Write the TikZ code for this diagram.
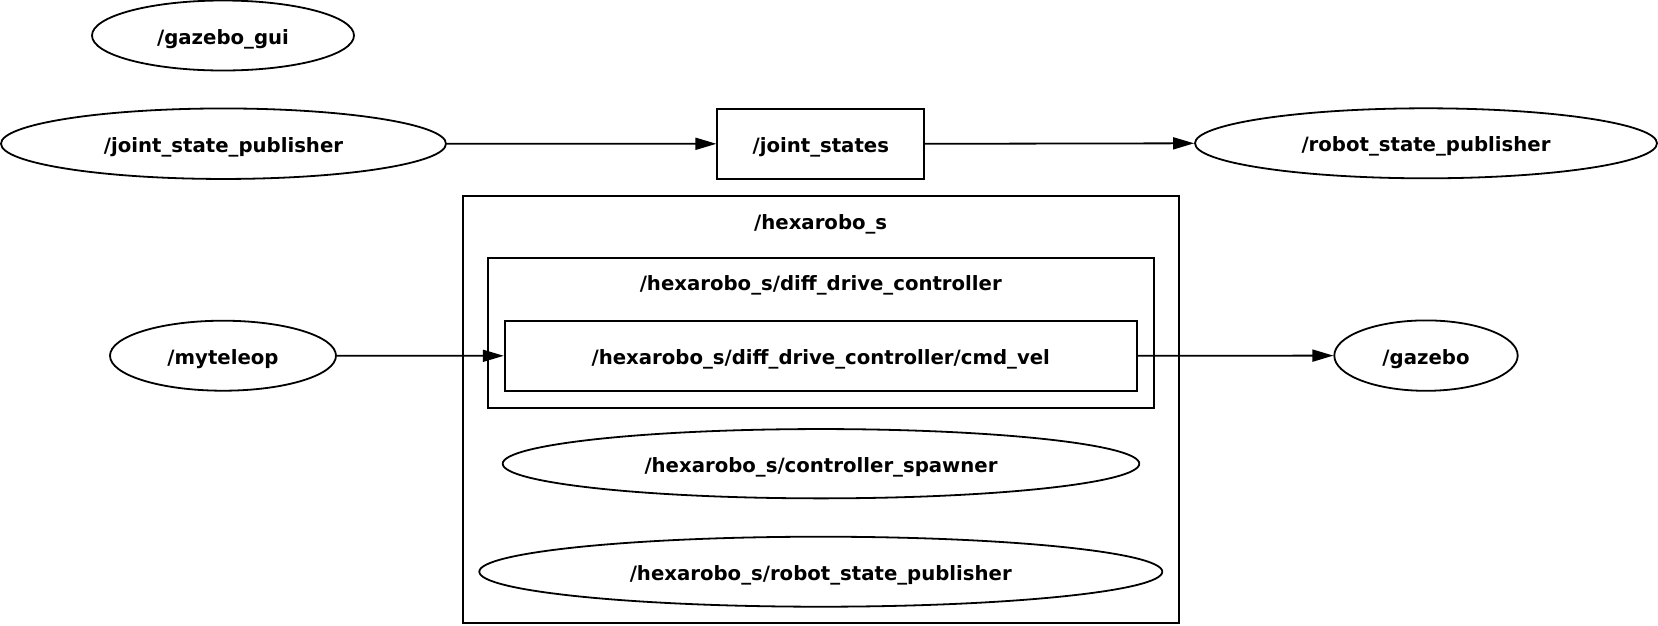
\documentclass[tikz,border=0pt]{standalone}
\usepackage{fontspec}
\setmainfont{DejaVu Sans}
\usetikzlibrary{arrows.meta,shapes.geometric}
\tikzset{
  lbl/.style={font=\fontsize{19.7}{22}\selectfont\bfseries, text height=17pt, text depth=0pt},
  rosnode/.style={draw, ellipse, line width=1.8pt, inner sep=0pt, lbl},
  topic/.style={draw, rectangle, line width=1.8pt, inner sep=0pt, lbl},
  cluster/.style={draw, rectangle, line width=1.8pt, inner sep=0pt},
  conn/.style={line width=1.8pt, -{Triangle[length=21pt,width=12pt]}}
}
\begin{document}
\begin{tikzpicture}[x=1pt,y=-1pt]
\useasboundingbox (0,0) rectangle (1658,625);
% clusters
\node[cluster, minimum width=716pt, minimum height=427.6pt] (hex) at (820.7,409.5) {};
\node[lbl] (hexlbl) at (820.7,220.7) {/hexarobo\_s};
\node[cluster, minimum width=666.3pt, minimum height=150pt] (diff) at (820.8,333) {};
\node[lbl] (difflbl) at (820.8,281.7) {/hexarobo\_s/diff\_drive\_controller};
% nodes
\node[rosnode, minimum width=262pt, minimum height=70pt] (gui) at (223,35.5) {/gazebo\_gui};
\node[rosnode, minimum width=445pt, minimum height=70.5pt] (jsp) at (223.5,143.7) {/joint\_state\_publisher};
\node[topic, minimum width=207pt, minimum height=69.7pt] (js) at (820.8,143.8) {/joint\_states};
\node[rosnode, minimum width=462pt, minimum height=70pt] (rsp) at (1426,143.3) {/robot\_state\_publisher};
\node[rosnode, minimum width=226pt, minimum height=70pt] (tel) at (223,355.7) {/myteleop};
\node[topic, minimum width=632.3pt, minimum height=69.7pt] (cmd) at (820.8,355.8) {/hexarobo\_s/diff\_drive\_controller/cmd\_vel};
\node[rosnode, minimum width=183.4pt, minimum height=70.4pt] (gz) at (1426,355.6) {/gazebo};
\node[rosnode, minimum width=636.6pt, minimum height=69.3pt] (spawn) at (821,463.7) {/hexarobo\_s/controller\_spawner};
\node[rosnode, minimum width=683pt, minimum height=70pt] (hrsp) at (820.8,571.7) {/hexarobo\_s/robot\_state\_publisher};
% connectors
\draw[conn] (jsp.east) -- (js.west);
\draw[conn] (js.east) -- (rsp.west);
\draw[conn] (tel.east) -- (cmd.west);
\draw[conn] (cmd.east) -- (gz.west);
\end{tikzpicture}
\end{document}
